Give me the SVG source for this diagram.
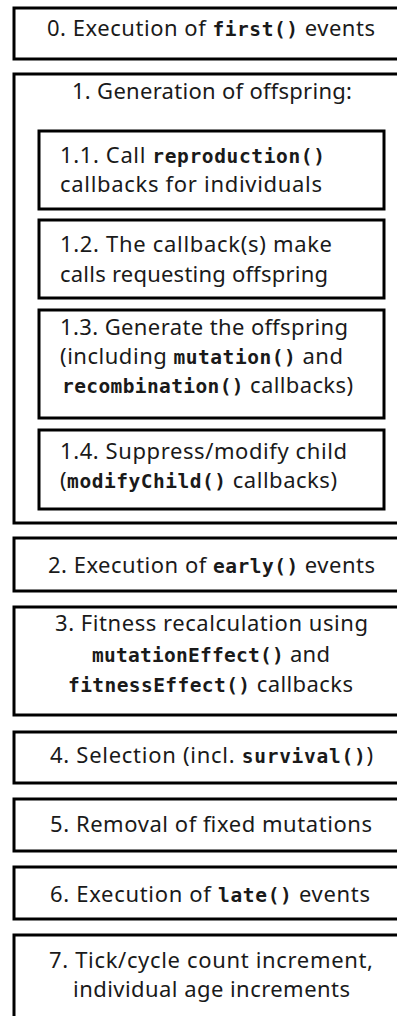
<svg xmlns="http://www.w3.org/2000/svg" width="397" height="1016" viewBox="0 0 397 1016">
  <style>
    .box { fill: #ffffff; stroke: #000000; stroke-width: 3; }
    .t { font-family: "Noto Sans", "Open Sans", sans-serif; font-size: 22px; fill: #1a1a1a; }
    .m { font-family: "DejaVu Sans Mono", "Liberation Mono", monospace; font-weight: bold; font-size: 19.5px; }
  </style>
  <rect x="0" y="0" width="397" height="1016" fill="#ffffff"/>

  <g id="step0">
    <rect class="box" x="14" y="8" width="400" height="51"/>
    <text class="t" x="47" y="36" textLength="328" lengthAdjust="spacing">0. Execution of <tspan class="m">first()</tspan> events</text>
  </g>

  <g id="step1">
    <rect class="box" x="14" y="74" width="400" height="449"/>
    <text class="t" x="72" y="99" textLength="280" lengthAdjust="spacing">1. Generation of offspring:</text>
  </g>

  <g id="step1-1">
    <rect class="box" x="39" y="131" width="345" height="78"/>
    <text class="t" x="60" y="163" textLength="265" lengthAdjust="spacing">1.1. Call <tspan class="m">reproduction()</tspan></text>
    <text class="t" x="60" y="192" textLength="262" lengthAdjust="spacing">callbacks for individuals</text>
  </g>

  <g id="step1-2">
    <rect class="box" x="39" y="220" width="345" height="78"/>
    <text class="t" x="60" y="252" textLength="272" lengthAdjust="spacing">1.2. The callback(s) make</text>
    <text class="t" x="60" y="282" textLength="268" lengthAdjust="spacing">calls requesting offspring</text>
  </g>

  <g id="step1-3">
    <rect class="box" x="39" y="310" width="345" height="108"/>
    <text class="t" x="60" y="335" textLength="288" lengthAdjust="spacing">1.3. Generate the offspring</text>
    <text class="t" x="60" y="364" textLength="283" lengthAdjust="spacing">(including <tspan class="m">mutation()</tspan> and</text>
    <text class="t" x="62" y="393" textLength="291" lengthAdjust="spacing"><tspan class="m">recombination()</tspan> callbacks)</text>
  </g>

  <g id="step1-4">
    <rect class="box" x="39" y="430" width="345" height="79"/>
    <text class="t" x="60" y="459" textLength="287" lengthAdjust="spacing">1.4. Suppress/modify child</text>
    <text class="t" x="60" y="488" textLength="277" lengthAdjust="spacing">(<tspan class="m">modifyChild()</tspan> callbacks)</text>
  </g>

  <g id="step2">
    <rect class="box" x="14" y="538" width="400" height="53"/>
    <text class="t" x="48" y="573" textLength="327" lengthAdjust="spacing">2. Execution of <tspan class="m">early()</tspan> events</text>
  </g>

  <g id="step3">
    <rect class="box" x="14" y="607" width="400" height="108"/>
    <text class="t" x="55" y="631" textLength="313" lengthAdjust="spacing">3. Fitness recalculation using</text>
    <text class="t" x="92" y="662" textLength="238" lengthAdjust="spacing"><tspan class="m">mutationEffect()</tspan> and</text>
    <text class="t" x="68" y="692" textLength="285" lengthAdjust="spacing"><tspan class="m">fitnessEffect()</tspan> callbacks</text>
  </g>

  <g id="step4">
    <rect class="box" x="14" y="732" width="400" height="51"/>
    <text class="t" x="50" y="763" textLength="323" lengthAdjust="spacing">4. Selection (incl. <tspan class="m">survival()</tspan>)</text>
  </g>

  <g id="step5">
    <rect class="box" x="14" y="799" width="400" height="52"/>
    <text class="t" x="50" y="832" textLength="322" lengthAdjust="spacing">5. Removal of fixed mutations</text>
  </g>

  <g id="step6">
    <rect class="box" x="14" y="867" width="400" height="52"/>
    <text class="t" x="50" y="902" textLength="320" lengthAdjust="spacing">6. Execution of <tspan class="m">late()</tspan> events</text>
  </g>

  <g id="step7">
    <rect class="box" x="14" y="935" width="400" height="100"/>
    <text class="t" x="49" y="968" textLength="324" lengthAdjust="spacing">7. Tick/cycle count increment,</text>
    <text class="t" x="73" y="997" textLength="277" lengthAdjust="spacing">individual age increments</text>
  </g>

  <g id="connectors"></g>
</svg>
